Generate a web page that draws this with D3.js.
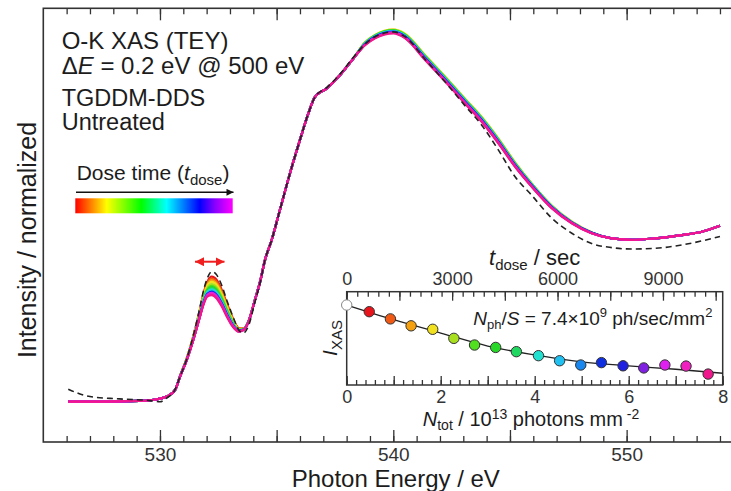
<!DOCTYPE html>
<html><head><meta charset="utf-8">
<script src="https://cdn.jsdelivr.net/npm/d3@7"></script>
<style>
body{margin:0;background:#fff;}
svg{display:block;font-family:"Liberation Sans",Arial,Helvetica,sans-serif;}
</style></head><body>
<svg id="c" width="731" height="491"></svg>
<script>
// ---------------- DATA ----------------
// Main spectra (O-K XAS), photon energy grid shared by the colored (dosed) spectra
const energy = [526.07,527.5,529.1,529.8,530.3,530.65,530.86,531.15,531.43,531.72,531.86,532.03,532.22,532.43,532.65,532.86,533.07,533.26,533.36,533.57,533.79,534.07,534.29,534.5,534.79,535.14,535.57,536.0,536.36,536.64,537.15,537.72,538.29,538.79,539.22,540.0,540.5,541.36,542.36,543.07,543.79,544.5,545.22,545.93,546.79,547.65,548.5,549.36,550.22,551.22,552.36,553.22,554.0];
// Part of the spectrum where all dosed curves coincide
const commonSpectrum = [0.000,0.000,0.002,0.006,0.014,0.032,0.068,0.113,0.167,0.231,0.262,0.285,0.289,0.280,0.258,0.231,0.208,0.194,0.190,0.194,0.216,0.276,0.325,0.384,0.439,0.520,0.619,0.710,0.782,0.826,0.850,0.886,0.931,0.967,0.986,0.999,0.986,0.927,0.859,0.809,0.759,0.701,0.637,0.583,0.525,0.484,0.457,0.443,0.439,0.443,0.452,0.461,0.477];
// pi* peak window (energy 530.86 .. 533.79), one row per dose step
const piWindowEnergy = [530.86,531.15,531.43,531.72,531.86,532.03,532.22,532.43,532.65,532.86,533.07,533.26,533.36,533.57,533.79];
const piSpectra = [
 [0.070,0.118,0.178,0.252,0.292,0.325,0.339,0.330,0.303,0.268,0.234,0.208,0.200,0.198,0.218],
 [0.070,0.118,0.177,0.250,0.289,0.321,0.334,0.325,0.299,0.264,0.231,0.207,0.199,0.198,0.218],
 [0.070,0.117,0.176,0.248,0.286,0.317,0.329,0.320,0.294,0.261,0.229,0.205,0.198,0.197,0.218],
 [0.069,0.117,0.175,0.246,0.284,0.314,0.325,0.316,0.290,0.258,0.227,0.204,0.197,0.197,0.217],
 [0.069,0.116,0.174,0.244,0.280,0.309,0.319,0.310,0.285,0.253,0.224,0.202,0.196,0.196,0.217],
 [0.069,0.116,0.173,0.242,0.277,0.305,0.314,0.305,0.281,0.250,0.221,0.201,0.195,0.196,0.217],
 [0.069,0.115,0.172,0.240,0.275,0.303,0.311,0.302,0.278,0.247,0.219,0.200,0.194,0.196,0.217],
 [0.069,0.115,0.171,0.239,0.273,0.300,0.308,0.299,0.275,0.245,0.218,0.199,0.194,0.196,0.217],
 [0.069,0.115,0.171,0.238,0.272,0.298,0.305,0.296,0.272,0.243,0.216,0.199,0.193,0.195,0.217],
 [0.069,0.114,0.170,0.237,0.270,0.295,0.302,0.293,0.270,0.241,0.215,0.198,0.193,0.195,0.217],
 [0.068,0.114,0.169,0.235,0.268,0.293,0.299,0.290,0.267,0.238,0.213,0.197,0.192,0.195,0.216],
 [0.068,0.114,0.169,0.235,0.267,0.292,0.298,0.289,0.266,0.238,0.213,0.197,0.192,0.195,0.216],
 [0.068,0.114,0.169,0.234,0.267,0.291,0.297,0.288,0.265,0.237,0.212,0.196,0.192,0.195,0.216],
 [0.068,0.114,0.168,0.234,0.266,0.290,0.295,0.286,0.263,0.235,0.211,0.196,0.191,0.195,0.216],
 [0.068,0.113,0.168,0.233,0.265,0.290,0.295,0.286,0.263,0.235,0.211,0.196,0.191,0.194,0.216],
 [0.068,0.113,0.168,0.233,0.264,0.288,0.293,0.284,0.262,0.234,0.210,0.195,0.191,0.194,0.216],
 [0.068,0.113,0.167,0.231,0.262,0.285,0.289,0.280,0.258,0.231,0.208,0.194,0.190,0.194,0.216]
];
// main peak / post-edge window (energy 538.79 .. 548.5), one row per dose step
const postWindowEnergy = [538.79,539.22,540.0,540.5,541.36,542.36,543.07,543.79,544.5,545.22,545.93,546.79,547.65,548.5];
const postSpectra = [
 [0.972,0.992,1.005,0.993,0.935,0.867,0.817,0.767,0.709,0.644,0.589,0.529,0.486,0.458],
 [0.973,0.993,1.007,0.995,0.937,0.869,0.819,0.769,0.711,0.646,0.590,0.530,0.487,0.459],
 [0.974,0.994,1.009,0.997,0.939,0.871,0.821,0.771,0.713,0.648,0.591,0.531,0.488,0.459],
 [0.975,0.995,1.009,0.998,0.940,0.872,0.822,0.772,0.714,0.649,0.592,0.532,0.488,0.459],
 [0.974,0.994,1.008,0.997,0.939,0.871,0.821,0.771,0.713,0.648,0.591,0.531,0.488,0.459],
 [0.974,0.994,1.008,0.996,0.938,0.870,0.820,0.770,0.712,0.647,0.591,0.531,0.487,0.459],
 [0.973,0.993,1.007,0.995,0.937,0.869,0.819,0.769,0.711,0.646,0.590,0.530,0.487,0.459],
 [0.972,0.992,1.006,0.994,0.936,0.868,0.818,0.768,0.710,0.645,0.589,0.530,0.487,0.458],
 [0.972,0.992,1.005,0.993,0.935,0.867,0.817,0.767,0.709,0.644,0.589,0.529,0.486,0.458],
 [0.971,0.991,1.005,0.992,0.934,0.866,0.816,0.766,0.708,0.643,0.588,0.529,0.486,0.458],
 [0.971,0.990,1.004,0.991,0.933,0.865,0.815,0.765,0.707,0.642,0.587,0.528,0.486,0.458],
 [0.970,0.990,1.003,0.991,0.932,0.864,0.814,0.764,0.706,0.642,0.587,0.528,0.486,0.458],
 [0.969,0.989,1.002,0.990,0.931,0.863,0.813,0.763,0.705,0.641,0.586,0.527,0.485,0.458],
 [0.969,0.988,1.001,0.989,0.930,0.862,0.812,0.762,0.704,0.640,0.585,0.527,0.485,0.457],
 [0.968,0.987,1.001,0.988,0.929,0.861,0.811,0.761,0.703,0.639,0.584,0.526,0.485,0.457],
 [0.968,0.987,1.000,0.987,0.928,0.860,0.810,0.760,0.702,0.638,0.584,0.525,0.484,0.457],
 [0.967,0.986,0.999,0.986,0.927,0.859,0.809,0.759,0.701,0.637,0.583,0.525,0.484,0.457]
];
const doseColors = ["#e8141c","#f05a14","#f5a00f","#f0e020","#a8e020","#50e020","#28d828","#20d860","#20e0d0","#20c0f0","#1888f0","#1030e0","#2020e0","#8020e0","#e020f0","#f020c0","#f0168c"];
// Initial (undosed) spectrum, dashed
const initialEnergy = [526.07,526.57,527.0,527.86,528.43,529.57,530.0,530.29,530.64,530.86,531.15,531.43,531.72,531.86,532.03,532.22,532.43,532.65,532.86,533.07,533.26,533.36,533.57,533.79,534.07,534.29,534.5,534.79,535.14,535.57,536.0,536.36,536.64,537.15,537.72,538.29,538.79,539.22,540.0,540.5,541.36,542.36,543.07,543.79,544.5,545.22,545.93,546.79,547.65,548.5,549.36,550.22,551.22,552.36,553.22,554.0];
const initialSpectrum = [0.034,0.021,0.014,0.009,0.007,0.003,0.000,0.010,0.032,0.068,0.116,0.180,0.258,0.300,0.335,0.353,0.344,0.315,0.276,0.240,0.210,0.196,0.186,0.205,0.270,0.322,0.384,0.439,0.520,0.619,0.710,0.782,0.826,0.852,0.889,0.934,0.970,0.990,1.003,0.990,0.929,0.857,0.803,0.750,0.683,0.610,0.560,0.498,0.457,0.429,0.418,0.414,0.416,0.425,0.436,0.448];
// Main axis ticks
const energyMinorTicks = d3.range(526, 555, 1);
const energyMajorTicks = [530, 535, 540, 545, 550];
const energyLabelTicks = [530, 540, 550];
// Legend gradient
const legendColors = ["#ff0000","#ff8000","#ffff00","#00ff00","#00ffff","#0000ff","#8000ff","#ff00ff"];
const legendOffsets = [0, 0.1, 0.2, 0.42, 0.58, 0.79, 0.88, 1];
// Inset: I_XAS vs N_tot
const nTot = [0,0.48,0.93,1.37,1.83,2.28,2.72,3.17,3.61,4.08,4.53,4.98,5.42,5.88,6.32,6.77,7.22,7.69];
const iXas = [1.0,0.975,0.948,0.922,0.909,0.875,0.850,0.841,0.825,0.810,0.791,0.775,0.784,0.772,0.764,0.775,0.771,0.741];
const pointColors = ["#ffffff"].concat(doseColors);
const fitN = [0,1,2,3,4,5,6,7,8];
const fitI = [1.0,0.945,0.895,0.846,0.813,0.787,0.772,0.759,0.744];
const nTotMinorTicks = d3.range(0, 41, 1).map(d => d / 5);
const nTotMajorTicks = [0,1,2,3,4,5,6,7,8];
const nTotLabelTicks = [0,2,4,6,8];
const tDoseMinorTicks = d3.range(0, 10701, 300);
const tDoseMajorTicks = [0,1500,3000,4500,6000,7500,9000,10500];
const tDoseLabelTicks = [0,3000,6000,9000];

// ---------------- DRAW ----------------
const svg = d3.select("#c");
const ink = "#1c1c1c", axisInk = "#333";
const frame = {l: 43.3, r: 743.3, t: 8.3, b: 442};
const x = d3.scaleLinear().domain([525, 555]).range([frame.l, frame.r]);
const y = d3.scaleLinear().domain([-0.1093, 1.067]).range([frame.b, frame.t]);

const defs = svg.append("defs");
defs.append("clipPath").attr("id","plotClip").append("rect")
  .attr("x",frame.l).attr("y",frame.t).attr("width",frame.r-frame.l).attr("height",frame.b-frame.t);
const grad = defs.append("linearGradient").attr("id","doseGrad").attr("x1","0%").attr("x2","100%");
legendColors.forEach((c,i)=>grad.append("stop").attr("offset",legendOffsets[i]).attr("stop-color",c));
function arrowMarker(id, color, w, h){
  defs.append("marker").attr("id",id).attr("viewBox","0 0 10 10").attr("refX",10).attr("refY",5)
    .attr("markerUnits","userSpaceOnUse").attr("markerWidth",w).attr("markerHeight",h)
    .attr("orient","auto-start-reverse")
    .append("path").attr("d","M0,0L10,5L0,10z").attr("fill",color);
}
arrowMarker("blackArrow","#111",9,7);
arrowMarker("redArrow","#f01e1e",9,9);

// axes helpers
function styleAxis(g, fs){
  g.select(".domain").remove();
  g.selectAll("line").attr("stroke",axisInk).attr("stroke-width",1.3);
  g.attr("font-family",null).attr("font-size",fs);
  g.selectAll("text").attr("fill","#333");
}
function tickAxis(axisFn, scale, ypos, values, size, labels, pad, fs){
  const ax = axisFn(scale).tickValues(values).tickSize(-size).tickPadding(pad)
    .tickFormat(d => labels && labels.includes(d) ? d : "");
  const g = svg.append("g").attr("transform",`translate(0,${ypos})`).call(ax);
  styleAxis(g, fs);
  return g;
}
// main axes
tickAxis(d3.axisBottom, x, frame.b, energyMinorTicks, 6, null, 5, 19);
tickAxis(d3.axisBottom, x, frame.b, energyMajorTicks, 12, energyLabelTicks, 5.2, 19);
tickAxis(d3.axisTop, x, frame.t, energyMinorTicks, 6, null, 5, 19);
tickAxis(d3.axisTop, x, frame.t, energyMajorTicks, 12, null, 5, 19);
svg.append("rect").attr("x",frame.l).attr("y",frame.t).attr("width",frame.r-frame.l).attr("height",frame.b-frame.t)
  .attr("fill","none").attr("stroke",axisInk).attr("stroke-width",1.6);

// spectra
const line = d3.line().x(d=>x(d.e)).y(d=>y(d.v)).curve(d3.curveMonotoneX);
const plot = svg.append("g").attr("clip-path","url(#plotClip)");
const piStart = energy.indexOf(piWindowEnergy[0]);
const postStart = energy.indexOf(postWindowEnergy[0]);
doseColors.forEach((col,i)=>{
  const vals = commonSpectrum.slice();
  piSpectra[i].forEach((v,k)=>{ vals[piStart+k] = v; });
  postSpectra[i].forEach((v,k)=>{ vals[postStart+k] = v; });
  const pts = energy.map((e,k)=>({e, v: vals[k]}));
  plot.append("path").datum(pts).attr("d",line).attr("fill","none")
    .attr("stroke",col).attr("stroke-width",2.2).attr("stroke-linejoin","round");
});
plot.append("path").datum(initialEnergy.map((e,k)=>({e, v: initialSpectrum[k]})))
  .attr("d",line).attr("fill","none").attr("stroke","#222").attr("stroke-width",1.6)
  .attr("stroke-dasharray","6,4");

// texts (top-left)
function txt(xp, yp, fs){ return svg.append("text").attr("x",xp).attr("y",yp).attr("font-size",fs).attr("fill",ink); }
txt(61.7, 49.3, 24).text("O-K XAS (TEY)");
const t2 = txt(61.7, 74, 24);
t2.append("tspan").text("Δ");
t2.append("tspan").attr("font-style","italic").text("E");
t2.append("tspan").text(" = 0.2 eV @ 500 eV");
txt(61.7, 105.5, 23.5).text("TGDDM-DDS");
txt(61.7, 130, 23.5).text("Untreated");

// legend
const lg = txt(76.7, 180, 21);
lg.append("tspan").text("Dose time (");
lg.append("tspan").attr("font-style","italic").text("t");
lg.append("tspan").attr("font-size",15).attr("dy",5).text("dose");
lg.append("tspan").attr("dy",-5).text(")");
svg.append("line").attr("x1",76).attr("x2",233.5).attr("y1",192.3).attr("y2",192.3)
  .attr("stroke","#111").attr("stroke-width",1.6).attr("marker-end","url(#blackArrow)");
svg.append("rect").attr("x",75.3).attr("y",198.3).attr("width",157.4).attr("height",15).attr("fill","url(#doseGrad)");

// red double arrow
svg.append("line").attr("x1",195).attr("x2",224.5).attr("y1",261.7).attr("y2",261.7)
  .attr("stroke","#f01e1e").attr("stroke-width",2)
  .attr("marker-start","url(#redArrow)").attr("marker-end","url(#redArrow)");

// axis titles
svg.append("text").attr("x",395.8).attr("y",486.5).attr("text-anchor","middle").attr("font-size",24).attr("fill",ink).text("Photon Energy / eV");
svg.append("text").attr("transform","translate(36,240) rotate(-90)").attr("text-anchor","middle")
  .attr("font-size",25).attr("fill",ink).text("Intensity / normalized");

// ---------------- INSET ----------------
const ins = {l: 346.7, r: 722.7, t: 291.7, b: 385};
const xN = d3.scaleLinear().domain([0, 8]).range([ins.l, ins.r]);
const xT = d3.scaleLinear().domain([0, 10700]).range([ins.l, ins.r]);
const yI = d3.scaleLinear().domain([0.7, 1.05]).range([ins.b, ins.t]);
svg.append("rect").attr("x",ins.l).attr("y",ins.t).attr("width",ins.r-ins.l).attr("height",ins.b-ins.t).attr("fill","#fff");
tickAxis(d3.axisBottom, xN, ins.b, nTotMinorTicks, 5, null, 5, 18);
tickAxis(d3.axisBottom, xN, ins.b, nTotMajorTicks, 9, nTotLabelTicks, 5.5, 18);
tickAxis(d3.axisTop, xT, ins.t, tDoseMinorTicks, 5, null, 5, 18);
tickAxis(d3.axisTop, xT, ins.t, tDoseMajorTicks, 9, tDoseLabelTicks, 6.7, 18);
svg.append("rect").attr("x",ins.l).attr("y",ins.t).attr("width",ins.r-ins.l).attr("height",ins.b-ins.t)
  .attr("fill","none").attr("stroke",axisInk).attr("stroke-width",1.5);
const fitLine = d3.line().x(d=>xN(d[0])).y(d=>yI(d[1])).curve(d3.curveMonotoneX);
svg.append("path").datum(fitN.map((n,i)=>[n, fitI[i]])).attr("d",fitLine)
  .attr("fill","none").attr("stroke","#222").attr("stroke-width",1.3);
svg.append("g").selectAll("circle").data(nTot).join("circle")
  .attr("cx",(d)=>xN(d)).attr("cy",(d,i)=>yI(iXas[i])).attr("r",5.2)
  .attr("fill",(d,i)=>pointColors[i]).attr("stroke",(d,i)=> i===0 ? "#888" : "#333").attr("stroke-width",1);

// inset texts
const nph = txt(473.3, 325, 19);
nph.append("tspan").attr("font-style","italic").text("N");
nph.append("tspan").attr("font-size",13).attr("dy",4).text("ph");
nph.append("tspan").attr("dy",-4).text("/");
nph.append("tspan").attr("font-style","italic").text("S");
nph.append("tspan").text(" = 7.4×10");
nph.append("tspan").attr("font-size",13).attr("dy",-8).text("9");
nph.append("tspan").attr("dy",8).text(" ph/sec/mm");
nph.append("tspan").attr("font-size",13).attr("dy",-8).text("2");

const td = txt(489, 265, 22);
td.append("tspan").attr("font-style","italic").text("t");
td.append("tspan").attr("font-size",15).attr("dy",5).text("dose");
td.append("tspan").attr("dy",-5).text(" / sec");

const nt = svg.append("text").attr("x",531).attr("y",426).attr("text-anchor","middle").attr("font-size",20).attr("fill",ink);
nt.append("tspan").attr("font-style","italic").text("N");
nt.append("tspan").attr("font-size",14).attr("dy",4).text("tot");
nt.append("tspan").attr("dy",-4).text(" / 10");
nt.append("tspan").attr("font-size",14).attr("dy",-7).text("13");
nt.append("tspan").attr("dy",7).text(" photons mm");
nt.append("tspan").attr("font-size",14).attr("dy",-7).text(" -2");

const il = svg.append("text").attr("transform","translate(337,338) rotate(-90)").attr("text-anchor","middle").attr("font-size",21).attr("fill",ink);
il.append("tspan").attr("font-style","italic").text("I");
il.append("tspan").attr("font-size",15).attr("dy",5).text("XAS");
</script>
</body></html>
